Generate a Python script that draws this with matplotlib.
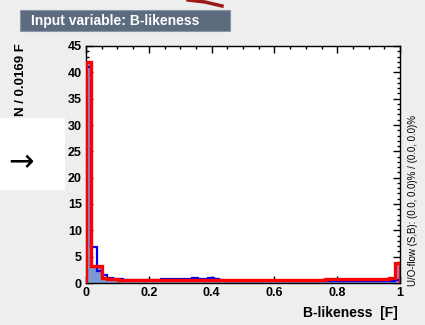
import numpy as np
import matplotlib.pyplot as plt
from matplotlib.ticker import MultipleLocator, FuncFormatter
from matplotlib.patches import Rectangle
from matplotlib.lines import Line2D

plt.rcParams['font.family'] = ['Liberation Sans', 'DejaVu Sans']
plt.rcParams['font.weight'] = 'bold'
plt.rcParams['hatch.color'] = 'red'
plt.rcParams['hatch.linewidth'] = 0.8

# 59 bins of width 0.0169 over [0, 1]
edges = np.linspace(0.0, 1.0, 60)

signal = [41.0, 6.8, 2.2, 1.5, 1.0, 0.8, 0.7, 0.6, 0.6, 0.5,
          0.5, 0.5, 0.6, 0.6, 0.7, 0.7, 0.8, 0.8, 0.7, 0.8,
          0.9, 0.8, 0.7, 0.9, 0.8, 0.6, 0.4, 0.3, 0.3, 0.3,
          0.3, 0.3, 0.3, 0.3, 0.3, 0.3, 0.3, 0.3, 0.3, 0.3,
          0.3, 0.3, 0.3, 0.3, 0.3, 0.3, 0.3, 0.3, 0.3, 0.3,
          0.3, 0.3, 0.3, 0.3, 0.3, 0.3, 0.3, 0.3, 0.6]
background = [42.0, 3.2, 3.2, 1.0, 0.8, 0.7, 0.6, 0.5, 0.5, 0.5,
              0.5, 0.5, 0.5, 0.5, 0.5, 0.5, 0.5, 0.5, 0.5, 0.5,
              0.5, 0.5, 0.5, 0.5, 0.5, 0.5, 0.5, 0.5, 0.5, 0.5,
              0.5, 0.5, 0.5, 0.5, 0.5, 0.5, 0.5, 0.5, 0.5, 0.5,
              0.5, 0.5, 0.5, 0.5, 0.6, 0.7, 0.8, 0.8, 0.8, 0.8,
              0.8, 0.8, 0.8, 0.8, 0.8, 0.8, 0.8, 0.9, 3.8]

fig = plt.figure(figsize=(4.25, 3.25), dpi=100, facecolor='#eeeeee')
ax = fig.add_axes([86 / 425, 1 - 283 / 325, 314 / 425, 237 / 325])

ax.stairs(background, edges, fill=True, facecolor='#7d99d1', hatch='////',
          edgecolor='none', zorder=2)
ax.stairs(signal, edges, color='#0000ee', linewidth=1.6, zorder=3)
ax.stairs(background, edges, color='#ff0000', linewidth=2.4, zorder=4)

ax.set_xlim(0, 1)
ax.set_ylim(0, 45)
ax.xaxis.set_major_locator(MultipleLocator(0.2))
ax.xaxis.set_minor_locator(MultipleLocator(0.05))
ax.yaxis.set_major_locator(MultipleLocator(5))
ax.yaxis.set_minor_locator(MultipleLocator(1))
ax.xaxis.set_major_formatter(FuncFormatter(lambda v, p: f'{v:g}'))
ax.yaxis.set_major_formatter(FuncFormatter(lambda v, p: f'{v:g}'))
ax.tick_params(which='both', direction='in', top=True, right=True,
               width=1.0, labelsize=9, pad=3)
ax.tick_params(which='major', length=5)
ax.tick_params(which='minor', length=2.5)
for s in ax.spines.values():
    s.set_linewidth(1.0)

# title box
fig.patches.append(Rectangle((20 / 425, 1 - 31 / 325), 210 / 425, 21 / 325,
                             transform=fig.transFigure, facecolor='#5d6b7e',
                             edgecolor='#8a96a6', linewidth=0.8))
fig.text(31 / 425, 1 - 20.5 / 325, 'Input variable: B-likeness', color='white',
         fontsize=10, fontweight='bold', va='center', ha='left')

fig.text(21 / 425, 1 - 80 / 325, 'N / 0.0169 F', rotation=90, fontsize=9.5,
         fontweight='bold', ha='center', va='center')
fig.text(398 / 425, 1 - 313 / 325, 'B-likeness  [F]', fontsize=10,
         fontweight='bold', ha='right', va='center')
fig.text(413 / 425, 1 - 200 / 325,
         'U/O-flow (S,B): (0.0, 0.0)% / (0.0, 0.0)%', rotation=90,
         fontsize=7, fontweight='normal', ha='center', va='center')

# overlay artefacts seen in the reference
fig.patches.append(Rectangle((0, 1 - 190 / 325), 65 / 425, 72 / 325,
                             transform=fig.transFigure, facecolor='white',
                             edgecolor='none'))
fig.text(21 / 425, 1 - 163 / 325, '\u2192', fontsize=22, fontweight='normal',
         ha='center', va='center', family='DejaVu Sans')
fig.lines.append(Line2D([188 / 425, 205 / 425, 222 / 425],
                        [1.0, 1 - 2 / 325, 1 - 6 / 325],
                        transform=fig.transFigure, color='#9b1b1b',
                        linewidth=2.5))

fig.savefig('out.png', dpi=100, facecolor=fig.get_facecolor())
